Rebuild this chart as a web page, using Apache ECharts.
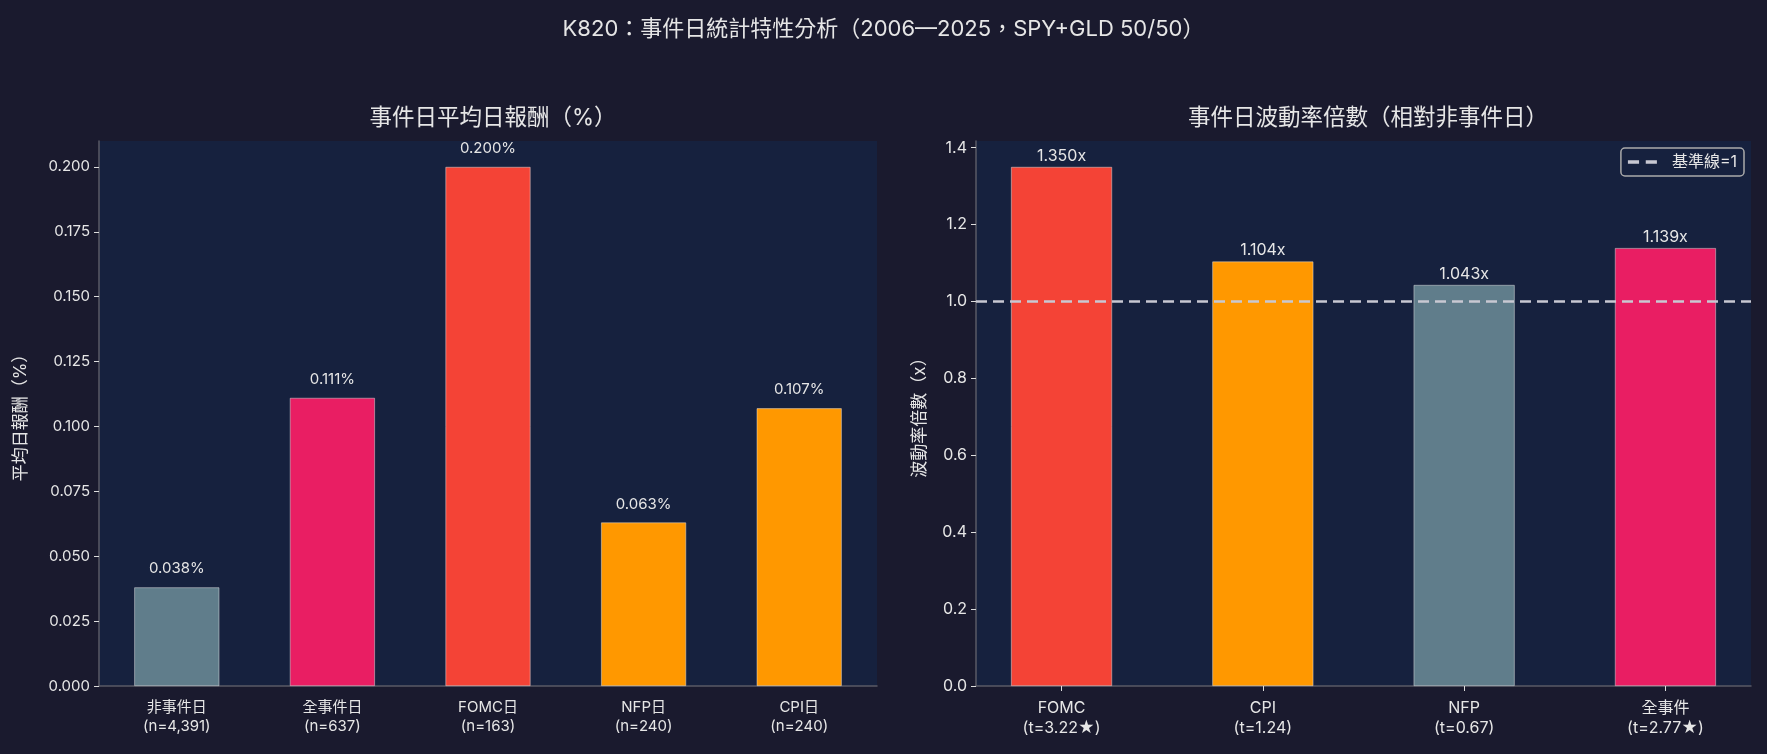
<!DOCTYPE html>
<html><head><meta charset="utf-8">
<script src="https://cdn.jsdelivr.net/npm/echarts@6/dist/echarts.min.js"></script>
<style>html,body{margin:0;padding:0;background:#1a1a2e;}#c{width:1767px;height:754px;}</style>
</head><body><div id="c"></div>
<script>
const leftCategories = ['非事件日\n(n=4,391)', '全事件日\n(n=637)', 'FOMC日\n(n=163)', 'NFP日\n(n=240)', 'CPI日\n(n=240)'];
const leftValues = [0.038, 0.111, 0.200, 0.063, 0.107];
const leftTicks = [0, 0.025, 0.05, 0.075, 0.1, 0.125, 0.15, 0.175, 0.2];
const rightCategories = ['FOMC\n(t=3.22★)', 'CPI\n(t=1.24)', 'NFP\n(t=0.67)', '全事件\n(t=2.77★)'];
const rightValues = [1.350, 1.104, 1.043, 1.139];
const rightTicks = [0, 0.2, 0.4, 0.6, 0.8, 1.0, 1.2, 1.4];
const baseline = 1;

const leftColors = ['#607D8B', '#E91E63', '#F44336', '#FF9800', '#FF9800'];
const rightColors = ['#F44336', '#FF9800', '#607D8B', '#E91E63'];
const FONT = "Inter, 'Noto Sans CJK TC', sans-serif";
const TXT = '#e6e6e6';
const AX = '#5a5a66';

const chart = echarts.init(document.getElementById('c'));
chart.setOption({
  backgroundColor: '#1a1a2e',
  textStyle: {fontFamily: FONT},
  animation: false,
  title: [
    {text: 'K820：事件日統計特性分析（2006—2025，SPY+GLD 50/50）', left: 'center', top: 13,
     textStyle: {color: TXT, fontSize: 22, fontWeight: 'normal', fontFamily: FONT}},
    {text: '事件日平均日報酬（%）', left: 488, textAlign: 'center', top: 102,
     textStyle: {color: TXT, fontSize: 22.5, fontWeight: 'normal', fontFamily: FONT}},
    {text: '事件日波動率倍數（相對非事件日）', left: 1363, textAlign: 'center', top: 102,
     textStyle: {color: TXT, fontSize: 22.5, fontWeight: 'normal', fontFamily: FONT}}
  ],
  legend: {
    data: [{name: '基準線=1', icon: 'path://M0,0h10v3h-10z M16,0h10v3h-10z'}],
    right: 23, top: 148,
    backgroundColor: '#16213e', borderColor: '#aaaaaa', borderWidth: 1.5, borderRadius: 4,
    padding: [6, 7, 6, 7], itemWidth: 29, itemHeight: 4, itemGap: 10,
    textStyle: {color: TXT, fontSize: 16, fontFamily: FONT, padding: [0, 0, 0, 10]}
  },
  grid: [
    {left: 99, right: 890, top: 141, bottom: 68, show: true, backgroundColor: '#16213e', borderWidth: 0},
    {left: 976, right: 16, top: 141, bottom: 68, show: true, backgroundColor: '#16213e', borderWidth: 0}
  ],
  xAxis: [
    {type: 'category', gridIndex: 0, data: leftCategories,
     axisLine: {onZero: false, lineStyle: {color: AX, width: 1.5}},
     axisTick: {alignWithLabel: true, length: 5, lineStyle: {color: '#dddddd'}},
     axisLabel: {color: TXT, fontSize: 15, lineHeight: 19, margin: 12}},
    {type: 'value', gridIndex: 1, min: -0.425, max: 3.425,
     splitLine: {show: false},
     axisLine: {onZero: false, lineStyle: {color: AX, width: 1.5}},
     axisTick: {customValues: [0, 1, 2, 3], length: 5, lineStyle: {color: '#dddddd'}},
     axisLabel: {customValues: [0, 1, 2, 3], color: TXT, fontSize: 16, lineHeight: 20, margin: 12,
       formatter: v => rightCategories[Math.round(v)]}}
  ],
  yAxis: [
    {type: 'value', gridIndex: 0, min: 0, max: 0.21,
     name: '平均日報酬（%）', nameLocation: 'middle', nameGap: 70, nameRotate: 90,
     nameTextStyle: {color: TXT, fontSize: 17},
     splitLine: {show: false},
     axisLine: {show: true, onZero: false, lineStyle: {color: AX, width: 1.5}},
     axisTick: {show: true, customValues: leftTicks, length: 5, lineStyle: {color: '#dddddd'}},
     axisLabel: {customValues: leftTicks, color: TXT, fontSize: 15, margin: 9, formatter: v => v.toFixed(3)}},
    {type: 'value', gridIndex: 1, min: 0, max: 1.4175,
     name: '波動率倍數（x）', nameLocation: 'middle', nameGap: 48, nameRotate: 90,
     nameTextStyle: {color: TXT, fontSize: 17},
     splitLine: {show: false},
     axisLine: {show: true, onZero: false, lineStyle: {color: AX, width: 1.5}},
     axisTick: {show: true, customValues: rightTicks, length: 5, lineStyle: {color: '#dddddd'}},
     axisLabel: {customValues: rightTicks, color: TXT, fontSize: 16, margin: 9, formatter: v => v.toFixed(1)}}
  ],
  series: [
    {type: 'bar', xAxisIndex: 0, yAxisIndex: 0, barWidth: 85,
     data: leftValues.map((v, i) => ({value: v, itemStyle: {color: leftColors[i]}})),
     itemStyle: {borderColor: 'rgba(230,230,230,0.8)', borderWidth: 0.6},
     label: {show: true, position: 'top', distance: 11, color: TXT, fontSize: 15,
       formatter: p => p.value.toFixed(3) + '%'}},
    {type: 'bar', xAxisIndex: 1, yAxisIndex: 1, barWidth: 101,
     data: rightValues.map((v, i) => ({value: [i, v], itemStyle: {color: rightColors[i]}})),
     itemStyle: {borderColor: 'rgba(230,230,230,0.8)', borderWidth: 0.6},
     label: {show: true, position: 'top', distance: 3, color: TXT, fontSize: 16,
       formatter: p => p.value[1].toFixed(3) + 'x'}},
    {type: 'line', name: '基準線=1', xAxisIndex: 1, yAxisIndex: 1, symbol: 'none', z: 5,
     data: [[-0.425, baseline], [3.425, baseline]],
     lineStyle: {color: '#c8c8d2', width: 2.5, type: [11, 6]},
     itemStyle: {color: '#c8c8d2'}}
  ]
});
</script></body></html>
